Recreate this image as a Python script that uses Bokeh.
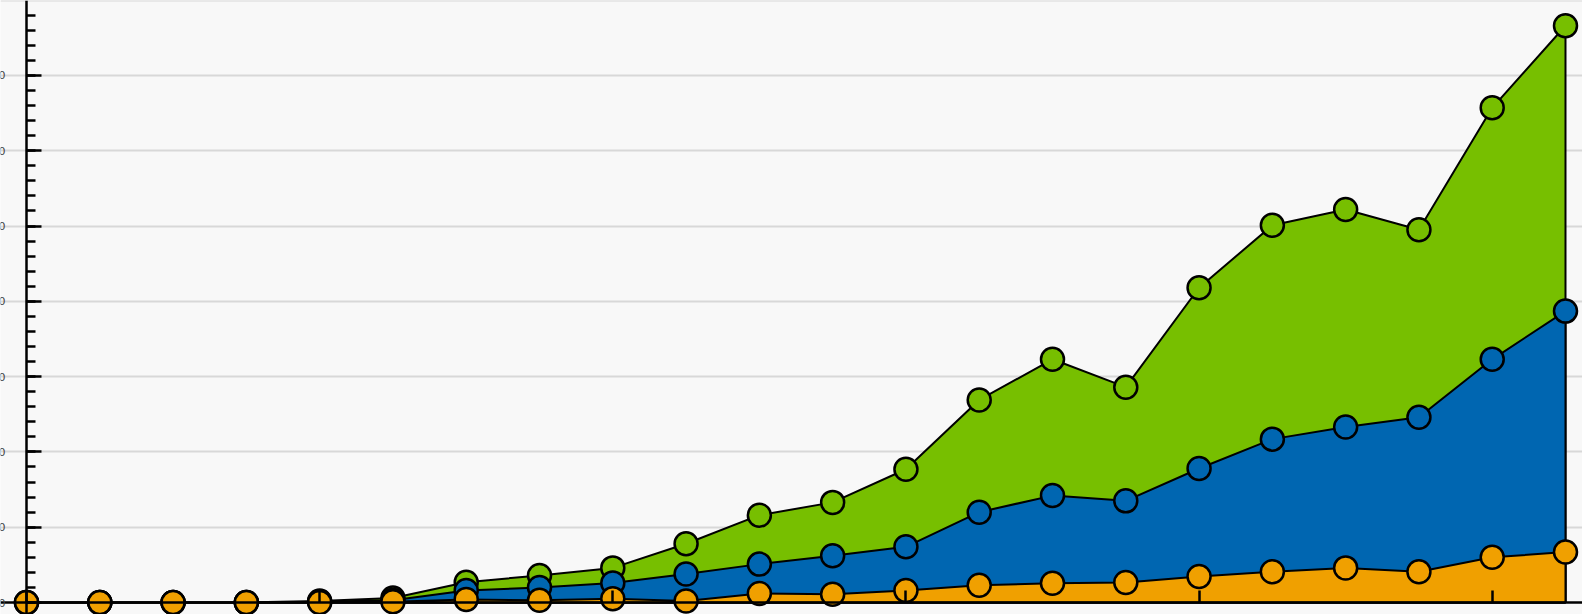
import numpy as np
from bokeh.plotting import figure
from bokeh.models import FixedTicker, LinearAxis, Range1d, Grid, CustomJSTickFormatter
from bokeh.embed import file_html
from bokeh.resources import INLINE

# ---- data ----
periods = list(range(22))
orange = [0, 0, 0, 0, 0, 0.1, 0.4, 0.3, 0.5, 0.2, 1.2, 1.1, 1.6, 2.3, 2.55, 2.65, 3.45, 4.1, 4.6, 4.1, 6.0, 6.7]
blue = [0, 0, 0, 0, 0.1, 0.2, 1.2, 1.7, 2.1, 3.6, 3.9, 5.1, 5.8, 9.7, 11.65, 10.85, 14.35, 17.6, 18.7, 20.5, 26.3, 32.0]
green = [0, 0, 0, 0, 0.1, 0.3, 1.1, 1.6, 2.0, 4.0, 6.5, 7.1, 10.3, 14.9, 18.1, 15.1, 24.0, 28.4, 28.9, 24.9, 33.4, 37.9]
y_major = [0, 10, 20, 30, 40, 50, 60, 70, 80]
y_minor = list(range(0, 82, 2))
x_major = [0, 4, 8, 12, 16, 20]

COL_ORANGE = "#f0a000"
COL_BLUE = "#0066b1"
COL_GREEN = "#77bf00"
BG = "#f8f8f8"

x = np.array(periods, dtype=float)
top_orange = np.array(orange)
top_blue = top_orange + np.array(blue)
top_green = top_blue + np.array(green)

p = figure(width=1582, height=614, output_backend="svg", toolbar_location=None,
           x_range=Range1d(-0.3548, 21.232), y_range=Range1d(-1.59, 79.95),
           x_axis_type=None, y_axis_type=None,
           min_border_left=0, min_border_right=0, min_border_top=0, min_border_bottom=0)
p.background_fill_color = BG
p.border_fill_color = BG
p.outline_line_color = None

grid = Grid(dimension=1, ticker=FixedTicker(ticks=y_major[1:]))
grid.grid_line_color = "#d8d8d8"
grid.grid_line_width = 2
p.add_layout(grid)

xs_patch = np.concatenate([x, [x[-1], x[0]]])
for top, col in [(top_green, COL_GREEN), (top_blue, COL_BLUE), (top_orange, COL_ORANGE)]:
    ys_patch = np.concatenate([top, [0, 0]])
    p.patch(xs_patch, ys_patch, fill_color=col, line_color="black", line_width=2)
    p.scatter(x, top, marker="circle", size=23, fill_color=col, line_color="black", line_width=2.5)

yaxis = LinearAxis(ticker=FixedTicker(ticks=y_major, minor_ticks=y_minor))
yaxis.fixed_location = 0
yaxis.axis_line_color = "black"
yaxis.axis_line_width = 2.5
yaxis.major_tick_in = 15
yaxis.major_tick_out = 0
yaxis.minor_tick_in = 9
yaxis.minor_tick_out = 0
yaxis.major_tick_line_width = 2.5
yaxis.minor_tick_line_width = 2.5
yaxis.major_label_text_font_size = "11px"
yaxis.major_label_text_font = "DejaVu Sans"
yaxis.major_label_text_color = "#444444"
yaxis.major_label_standoff = 21
p.add_layout(yaxis, "left")

xaxis = LinearAxis(ticker=FixedTicker(ticks=x_major, minor_ticks=[]))
xaxis.fixed_location = 0
xaxis.axis_line_color = "black"
xaxis.axis_line_width = 2.5
xaxis.major_tick_in = 12
xaxis.major_tick_out = 0
xaxis.minor_tick_in = 0
xaxis.minor_tick_out = 0
xaxis.major_tick_line_width = 2.5
xaxis.formatter = CustomJSTickFormatter(code="return ''")
xaxis.major_label_standoff = 0
p.add_layout(xaxis, "below")

open("out.html", "w").write(file_html(p, INLINE))
